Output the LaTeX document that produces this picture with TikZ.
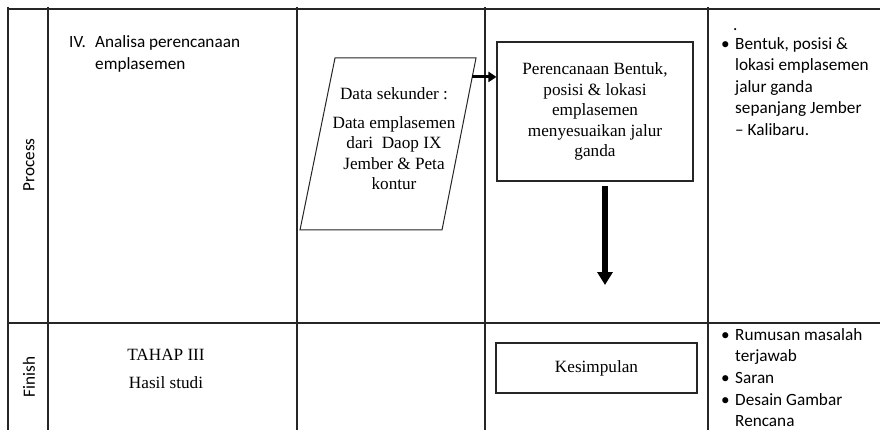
\documentclass[tikz,border=0pt]{standalone}
\usepackage{fontspec}
\setmainfont{Liberation Serif}
\newfontfamily\calfont{Carlito}
\usetikzlibrary{arrows.meta,calc}
\begin{document}
\begin{tikzpicture}[x=1pt,y=-1pt,
  gridline/.style={line width=1.2pt, draw=black!85},
  sans/.style={font=\calfont\fontsize{17.2}{21.5}\selectfont, inner sep=0pt, align=left},
  serif/.style={font=\fontsize{17.2}{20.5}\selectfont, inner sep=0pt, align=center},
  flowbox/.style={draw=black!85, line width=1.1pt, rectangle, inner sep=0pt, font=\fontsize{17.2}{20.5}\selectfont, align=center},
  dataline/.style={draw=black!85, line width=1pt, line join=miter},
  harrow/.style={line width=3pt, -{Triangle[length=8pt,width=10pt]}},
  varrow/.style={line width=6pt, -{Triangle[length=13pt,width=15pt]}}]
\useasboundingbox (0,0) rectangle (880,430);
\fill[white] (0,0) rectangle (880,430);
% table grid
\draw[gridline] (7,9) -- (880,9);
\draw[gridline] (7,323) -- (880,323);
\foreach \xx in {8,48,297,485,708} \draw[gridline] (\xx,7) -- (\xx,430);
% left labels
\node[sans, rotate=90] (process) at (29,165) {Process};
\node[sans, rotate=90] (finish) at (29,377) {Finish};
% column 2
\node[sans, anchor=north west] (step4) at (69,35.5) {\makebox[26pt][l]{IV.}Analisa perencanaan\\\hspace*{26pt}emplasemen};
\node[serif] (tahap) at (166,369) {TAHAP III\\[8pt]Hasil studi};
% data parallelogram
\coordinate (ptl) at (335,58);
\coordinate (ptr) at (476,58);
\coordinate (pbr) at (442,230);
\coordinate (pbl) at (300,230);
\draw[dataline] (ptl) -- (ptr) -- (pbr) -- (pbl) -- cycle;
\node[serif] (para) at (394,139) {Data sekunder :\\[8pt]Data emplasemen\\dari~ Daop IX\\Jember \& Peta\\kontur};
% planning box
\node[flowbox, minimum width=196pt, minimum height=139pt] (plan) at (595,111.5) {Perencanaan Bentuk,\\posisi \& lokasi\\emplasemen\\menyesuaikan jalur\\ganda};
\node[flowbox, minimum width=201pt, minimum height=50pt] (kesim) at (596.5,368) {Kesimpulan};
% arrows
\coordinate (a1) at ($(ptr)!0.11!(pbr)$);
\draw[harrow] (a1) -- (a1 -| plan.west);
\coordinate (a2) at (605,285);
\draw[varrow] ($(a2 |- plan.south)+(0,4)$) -- (a2);
% right column
\node[sans, anchor=west] (dot) at (733,30) {.};
\node[sans, anchor=north west] (out1) at (718,37) {\makebox[17pt][l]{\,•}Bentuk, posisi \&\\\hspace*{17pt}lokasi emplasemen\\\hspace*{17pt}jalur ganda\\\hspace*{17pt}sepanjang Jember\\\hspace*{17pt}– Kalibaru.};
\node[sans, anchor=north west, font=\calfont\fontsize{17.2}{21.7}\selectfont] (out2) at (718,328) {\makebox[17pt][l]{\,•}Rumusan masalah\\\hspace*{17pt}terjawab\\\makebox[17pt][l]{\,•}Saran\\\makebox[17pt][l]{\,•}Desain Gambar\\\hspace*{17pt}Rencana};
\end{tikzpicture}
\end{document}
